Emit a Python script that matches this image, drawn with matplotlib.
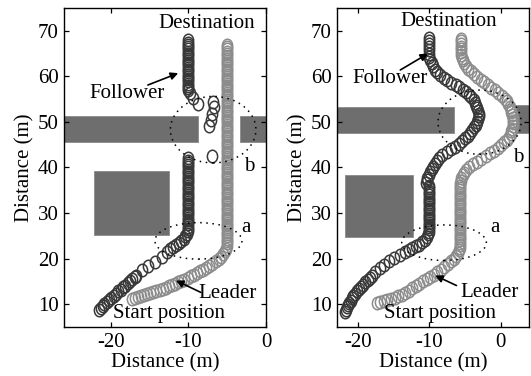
import matplotlib.pyplot as plt
from matplotlib.patches import Rectangle, Ellipse
from matplotlib.path import Path
from matplotlib.transforms import Affine2D

plt.rcParams['font.family'] = ['Liberation Serif', 'DejaVu Serif']
plt.rcParams['font.size'] = 15
plt.rcParams['axes.unicode_minus'] = False
plt.rcParams['xtick.direction'] = 'in'
plt.rcParams['ytick.direction'] = 'in'
plt.rcParams['xtick.top'] = True
plt.rcParams['ytick.right'] = True

# ---- run 1 (left): positions in metres
fol1_path = [(-21.5, 8.7), (-21.3, 9.2), (-21.0, 9.6), (-20.8, 10.1), (-20.5, 10.5), (-20.2, 11.0),
             (-19.9, 11.4), (-19.6, 11.9), (-19.3, 12.3), (-19.0, 12.8), (-18.7, 13.2), (-18.4, 13.7),
             (-18.1, 14.1), (-17.8, 14.6), (-17.5, 15.0), (-17.2, 15.5), (-16.9, 15.9), (-16.7, 16.3),
             (-16.0, 17.4), (-15.2, 18.4), (-14.3, 19.3), (-13.4, 20.3), (-12.7, 21.5),
             (-12.3, 22.1), (-12.0, 22.5), (-11.6, 22.9), (-11.2, 23.4), (-10.9, 23.9), (-10.6, 24.4),
             (-10.4, 25.0), (-10.2, 25.5),
             (-7.0, 42.6), (-7.4, 49.0), (-7.1, 50.4), (-6.9, 51.8), (-6.7, 53.2), (-6.8, 54.4),
             (-8.8, 54.0), (-9.4, 55.2), (-9.8, 56.4)]
fol1_cols = [(-10.0, [26.0, 26.5, 27.0, 27.5, 28.0, 28.5, 29.0, 29.5, 30.0, 30.5, 31.0, 31.5, 32.0,
                      32.5, 33.0, 33.5, 34.0, 34.5, 35.0, 35.5, 36.0, 36.5, 37.0, 37.5, 38.0, 38.5,
                      39.0, 39.5, 40.0, 40.5, 41.0, 41.5, 42.0]),
             (-10.0, [56.9, 57.4, 57.9, 58.4, 58.9, 59.4, 59.9, 60.4, 60.9, 61.4, 61.9, 62.4, 62.9,
                      63.4, 63.9, 64.4, 64.9, 65.4, 65.9, 66.4, 66.9, 67.4, 67.9])]
lead1_path = [(-17.3, 11.2), (-16.9, 11.4), (-16.5, 11.6), (-16.1, 11.8), (-15.7, 12.0), (-15.3, 12.2),
              (-14.9, 12.4), (-14.5, 12.6), (-14.1, 12.9), (-13.7, 13.1), (-13.3, 13.4), (-12.9, 13.6),
              (-12.5, 13.9), (-12.1, 14.2), (-11.7, 14.5), (-11.3, 14.8), (-10.9, 15.1), (-10.5, 15.4),
              (-10.1, 15.7), (-9.7, 16.1), (-9.3, 16.5), (-8.9, 16.9), (-8.5, 17.2), (-8.1, 17.6),
              (-7.7, 18.0), (-7.3, 18.4), (-6.9, 18.9), (-6.5, 19.4), (-6.1, 19.9), (-5.8, 20.4),
              (-5.5, 21.0), (-5.3, 21.6), (-5.1, 22.2), (-5.0, 22.8)]
lead1_cols = [(-5.0, [23.4, 23.9, 24.4, 24.9, 25.4, 25.9, 26.4, 26.9, 27.4, 27.9, 28.4, 28.9, 29.4,
                      29.9, 30.4, 30.9, 31.4, 31.9, 32.4, 32.9, 33.4, 33.9, 34.4, 34.9, 35.4, 35.9,
                      36.4, 36.9, 37.4, 37.9, 38.4, 38.9, 39.4, 39.9, 40.4, 40.9, 41.4, 41.9, 42.4,
                      42.9, 43.4, 43.9, 44.4, 44.9, 45.4, 45.9, 46.4, 46.9, 47.4, 47.9, 48.4, 48.9,
                      49.4, 49.9, 50.4, 50.9, 51.4, 51.9, 52.4, 52.9, 53.4, 53.9, 54.4, 54.9, 55.4,
                      55.9, 56.4, 56.9, 57.4, 57.9, 58.4, 58.9, 59.4, 59.9, 60.4, 60.9, 61.4, 61.9,
                      62.4, 62.9, 63.4, 63.9, 64.4, 64.9, 65.4, 65.9, 66.4, 66.9])]
# obstacles as (x0, y0, x1, y1)
obst1 = [(-22.2, 25.2, -12.45, 39.2), (-26.0, 45.6, -8.8, 51.2), (-3.3, 45.6, 0.0, 51.2)]
# dotted zones: (name, cx, cy, width, height)
zone1 = [('a', -8.7, 23.9, 11.2, 8.0), ('b', -6.8, 48.3, 11.0, 14.6)]

# ---- run 2 (right)
fol2_path = [(-21.9, 8.3), (-21.8, 8.8), (-21.6, 9.3), (-21.5, 9.8), (-21.3, 10.3), (-21.1, 10.8),
             (-20.9, 11.3), (-20.7, 11.8), (-20.5, 12.3), (-20.2, 12.8), (-19.9, 13.3), (-19.6, 13.8),
             (-19.3, 14.3), (-19.0, 14.8), (-18.7, 15.3), (-18.4, 15.8), (-18.1, 16.3),
             (-17.6, 17.1), (-17.0, 17.9), (-16.4, 18.7), (-15.7, 19.5), (-15.0, 20.2), (-14.2, 20.9),
             (-13.4, 21.5),
             (-12.9, 21.9), (-12.4, 22.3), (-11.9, 22.7), (-11.4, 23.1), (-11.0, 23.6), (-10.6, 24.1),
             (-10.3, 24.7), (-10.2, 25.3),
             (-10.5, 36.6), (-10.4, 37.2), (-10.3, 37.8), (-10.1, 38.4), (-9.9, 39.0), (-9.7, 39.6),
             (-9.5, 40.2), (-9.2, 40.8), (-8.9, 41.4), (-8.6, 42.0), (-8.2, 42.7), (-7.6, 43.4),
             (-7.0, 44.0), (-6.4, 44.6), (-5.9, 45.2), (-5.4, 45.8), (-5.0, 46.4), (-4.6, 47.0),
             (-4.3, 47.6), (-4.0, 48.2), (-3.7, 48.8), (-3.5, 49.4), (-3.3, 50.0), (-3.2, 50.6),
             (-3.1, 51.2), (-3.1, 51.8), (-3.2, 52.4), (-3.3, 53.0), (-3.4, 53.6), (-3.6, 54.2),
             (-3.8, 54.8), (-4.1, 55.4), (-4.4, 56.0), (-4.8, 56.6), (-5.3, 57.1), (-5.8, 57.6),
             (-6.3, 58.1), (-6.9, 58.6), (-7.5, 59.1), (-8.0, 59.7), (-8.5, 60.3), (-8.9, 60.9),
             (-9.2, 61.5), (-9.5, 62.2), (-9.7, 62.9), (-9.9, 63.6), (-10.0, 64.3), (-10.0, 65.0),
             (-10.1, 65.7), (-10.1, 66.4), (-10.1, 67.1), (-10.1, 67.8), (-10.1, 68.5)]
fol2_cols = [(-10.1, [25.9, 26.4, 26.9, 27.4, 27.9, 28.4, 28.9, 29.4, 29.9, 30.4, 30.9, 31.4, 31.9,
                      32.4, 32.9, 33.4, 33.9, 34.4, 34.9, 35.4, 35.9])]
lead2_path = [(-17.4, 10.2), (-16.9, 10.4), (-16.4, 10.6), (-15.9, 10.9), (-15.4, 11.1), (-14.9, 11.4),
              (-14.4, 11.7), (-13.9, 12.1), (-13.4, 12.5), (-12.9, 13.0), (-12.4, 13.5), (-11.9, 14.0),
              (-11.4, 14.5), (-10.9, 15.0), (-10.4, 15.5), (-9.9, 16.0), (-9.4, 16.5), (-8.9, 17.0),
              (-8.4, 17.6), (-7.9, 18.2), (-7.4, 18.8), (-7.0, 19.4), (-6.6, 20.0), (-6.3, 20.6),
              (-6.0, 21.2), (-5.8, 21.8), (-5.7, 22.4),
              (-5.6, 37.1), (-5.5, 37.7), (-5.3, 38.3), (-5.1, 38.9), (-4.8, 39.5), (-4.4, 40.1),
              (-3.9, 40.7), (-3.3, 41.3), (-2.7, 41.9), (-2.1, 42.5), (-1.5, 43.1), (-0.9, 43.7),
              (-0.4, 44.3), (0.1, 44.9), (0.5, 45.5), (0.9, 46.1), (1.2, 46.7), (1.4, 47.3),
              (1.5, 47.9), (1.6, 48.5), (1.7, 49.1), (1.7, 49.7), (1.7, 50.3), (1.7, 50.9),
              (1.6, 51.5), (1.5, 52.1), (1.4, 52.7), (1.3, 53.3), (1.1, 53.9), (0.9, 54.5),
              (0.6, 55.1), (0.2, 55.7), (-0.3, 56.3), (-0.8, 56.9), (-1.3, 57.5), (-1.8, 58.1),
              (-2.3, 58.7), (-2.8, 59.3), (-3.3, 59.9), (-3.8, 60.5), (-4.2, 61.1), (-4.6, 61.7),
              (-4.9, 62.3), (-5.1, 62.9), (-5.3, 63.5), (-5.4, 64.1), (-5.5, 64.7), (-5.5, 65.3),
              (-5.5, 65.9), (-5.5, 66.5), (-5.5, 67.1), (-5.5, 67.7), (-5.5, 68.3)]
lead2_cols = [(-5.7, [23.0, 23.5, 24.0, 24.5, 25.0, 25.5, 26.0, 26.5, 27.0, 27.5, 28.0, 28.5, 29.0,
                      29.5, 30.0, 30.5, 31.0, 31.5, 32.0, 32.5, 33.0, 33.5, 34.0, 34.5, 35.0, 35.5,
                      36.0, 36.5])]
obst2 = [(-21.9, 24.8, -12.3, 38.3), (-23.0, 47.6, -6.5, 53.2), (2.2, 47.6, 4.0, 53.8)]
zone2 = [('a', -7.95, 23.5, 11.9, 7.8), ('b', -2.95, 49.95, 11.7, 14.1)]

x_ticks = [-20, -10, 0]
y_ticks = [10, 20, 30, 40, 50, 60, 70]

FOL_COLOR = '#383838'
LEAD_COLOR = '#8c8c8c'
BLOCK_COLOR = '#6e6e6e'

# slightly tall ring used for every logged position
RING = Path.unit_circle().transformed(Affine2D().scale(0.82, 1.0))


def unpack(path, cols):
    xs = [p[0] for p in path]
    ys = [p[1] for p in path]
    for cx, cy in cols:
        xs += [cx] * len(cy)
        ys += cy
    return xs, ys


def draw_run(ax, fol, lead, obst, zones, xlim):
    for x0, y0, x1, y1 in obst:
        ax.add_patch(Rectangle((x0, y0), x1 - x0, y1 - y0, facecolor=BLOCK_COLOR,
                               edgecolor='#8a8a8a', lw=0.6, zorder=1))
    lx, ly = unpack(*lead)
    ax.plot(lx, ly, ls='none', marker=RING, ms=9, mfc='none', mec=LEAD_COLOR, mew=1.1, zorder=2)
    fx, fy = unpack(*fol)
    ax.plot(fx, fy, ls='none', marker=RING, ms=9, mfc='none', mec=FOL_COLOR, mew=1.1, zorder=3)
    for name, cx, cy, w, h in zones:
        ax.add_patch(Ellipse((cx, cy), w, h, fill=False, ec='k', lw=1.1,
                             ls=(0, (1, 3)), zorder=4))
    ax.set_xlim(*xlim)
    ax.set_ylim(5, 75)
    ax.set_xticks(x_ticks)
    ax.set_yticks(y_ticks)
    ax.tick_params(length=3.5, width=0.9, pad=4)
    ax.set_xlabel('Distance (m)', labelpad=1)
    ax.set_ylabel('Distance (m)', labelpad=2)
    for s in ax.spines.values():
        s.set_linewidth(1.0)


fig = plt.figure(figsize=(5.31, 3.76), dpi=100)
ax1 = fig.add_axes([64 / 531, 49 / 376, 202 / 531, 319 / 376])
ax2 = fig.add_axes([337 / 531, 49 / 376, 192 / 531, 319 / 376])

draw_run(ax1, (fol1_path, fol1_cols), (lead1_path, lead1_cols), obst1, zone1, (-26, 0))
draw_run(ax2, (fol2_path, fol2_cols), (lead2_path, lead2_cols), obst2, zone2, (-23, 4))

arrow = dict(arrowstyle='-|>', color='k', lw=1.2, mutation_scale=11, shrinkA=0, shrinkB=0)

# left annotations
ax1.text(-7.6, 71.6, 'Destination', ha='center', va='center', zorder=5)
ax1.text(-12.5, 7.9, 'Start position', ha='center', va='center', zorder=5)
ax1.annotate('', xy=(-11.3, 60.7), xytext=(-15.2, 58.1), arrowprops=arrow, zorder=5)
ax1.text(-17.9, 56.3, 'Follower', ha='center', va='center', zorder=5)
ax1.annotate('', xy=(-11.6, 15.2), xytext=(-8.4, 12.6), arrowprops=arrow, zorder=5)
ax1.text(-4.9, 12.3, 'Leader', ha='center', va='center', zorder=5)
ax1.text(-2.6, 26.8, 'a', ha='center', va='center', zorder=5)
ax1.text(-2.1, 40.3, 'b', ha='center', va='center', zorder=5)

# right annotations
ax2.text(-7.3, 72.0, 'Destination', ha='center', va='center', zorder=5)
ax2.text(-8.5, 7.9, 'Start position', ha='center', va='center', zorder=5)
ax2.annotate('', xy=(-10.2, 65.0), xytext=(-14.1, 61.4), arrowprops=arrow, zorder=5)
ax2.text(-15.5, 59.6, 'Follower', ha='center', va='center', zorder=5)
ax2.annotate('', xy=(-9.2, 16.3), xytext=(-6.2, 14.1), arrowprops=arrow, zorder=5)
ax2.text(-1.6, 12.6, 'Leader', ha='center', va='center', zorder=5)
ax2.text(-0.8, 26.8, 'a', ha='center', va='center', zorder=5)
ax2.text(2.5, 42.1, 'b', ha='center', va='center', zorder=5)

fig.savefig('out.png', dpi=100)
